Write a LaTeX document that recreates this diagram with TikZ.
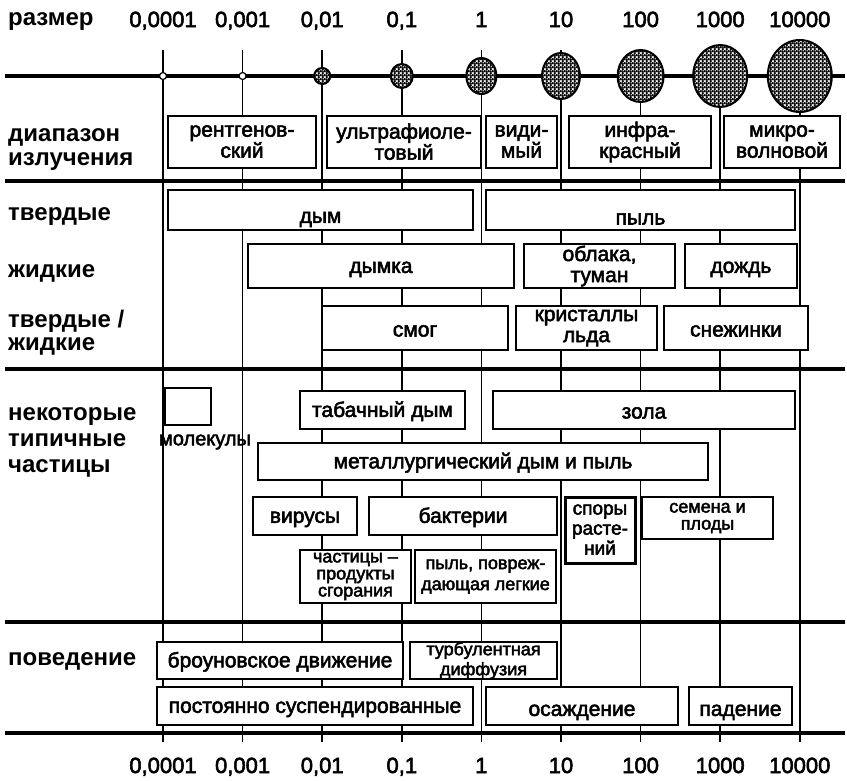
\documentclass[tikz,border=0pt]{standalone}
\usepackage{fontspec}
\setmainfont{Liberation Sans}
\newfontfamily\boxfont[FakeBold=2.5]{Liberation Sans}
\usetikzlibrary{positioning, shapes.geometric, patterns}

\newcommand\boxtop{18}

\pgfdeclarepatternformonly{speckle}{\pgfqpoint{-1pt}{-1pt}}{\pgfqpoint{5pt}{5pt}}{\pgfqpoint{4pt}{4pt}}{
  \pgfsetlinewidth{1.9pt}
  \pgfpathmoveto{\pgfqpoint{0pt}{0.4pt}}\pgfpathlineto{\pgfqpoint{1.5pt}{1.4pt}}
  \pgfpathmoveto{\pgfqpoint{2pt}{2.4pt}}\pgfpathlineto{\pgfqpoint{3.5pt}{3.4pt}}
  \pgfpathmoveto{\pgfqpoint{2.4pt}{0.2pt}}\pgfpathlineto{\pgfqpoint{3.2pt}{0.9pt}}
  \pgfusepath{stroke}
}

\begin{document}
\begin{tikzpicture}[
    x=1pt, y=-1pt,
    textdrop/.code={\def\boxtop{#1}},
    box/.style={rectangle, draw, line width=2pt, fill=white, inner sep=0pt,
                align=center, font=\boxfont\fontsize{21}{21}\selectfont,
                execute at begin node={\rule{0pt}{\boxtop pt}},
                execute at end node={\rule[-1pt]{0pt}{1pt}}},
    smallbox/.style={box, textdrop=13, font=\boxfont\fontsize{18}{17}\selectfont},
    wh/.style 2 args={minimum width=#1, minimum height=#2},
    rowlabel/.style={anchor=base west, align=left, inner sep=0pt,
                font=\bfseries\fontsize{24}{24}\selectfont},
    ticklabel/.style={anchor=base, inner sep=0pt, font=\boxfont\fontsize{22}{22}\selectfont},
    rule/.style={line width=3.5pt},
    gridline/.style={line width=1.5pt},
    ball/.style={ellipse, draw, line width=2pt, inner sep=0pt, fill=white,
                postaction={pattern=speckle}},
    ring/.style={circle, draw, line width=1.2pt, inner sep=0pt, fill=white,
                minimum size=7}
  ]
    \useasboundingbox (0,0) rectangle (847,780);

    % size scale
    \foreach \t [count=\i from 0] in {{0,0001},{0,001},{0,01},{0,1},1,10,100,1000,10000} {
      \coordinate (t\i) at (163+79.6*\i,50);
      \coordinate (b\i) at (163+79.6*\i,742);
      \draw[gridline] (t\i) -- (b\i);
      \node[ticklabel] (top\i) at (163+79.6*\i,27) {\t};
      \node[ticklabel] (bot\i) at (163+79.6*\i,773) {\t};
    }
    \foreach \y [count=\k] in {76,181,369,622,733} {
      \coordinate (hl\k) at (5,\y);
      \coordinate (hr\k) at (845,\y);
      \draw[rule] (hl\k) -- (hr\k);
    }

    \node[ring] (c0) at (163,76) {};
    \node[ring] (c1) at (242.6,76) {};
    \node[ball, wh={16}{16}] (c2) at (322.2,76) {};
    \node[ball, wh={22}{24}] (c3) at (401.8,76) {};
    \node[ball, wh={30}{36}] (c4) at (481.4,76) {};
    \node[ball, wh={38}{46}] (c5) at (561,76) {};
    \node[ball, wh={46}{52}] (c6) at (640.6,76) {};
    \node[ball, wh={54}{62}] (c7) at (720.2,76) {};
    \node[ball, wh={64}{72}] (c8) at (799.8,76) {};

    \node[rowlabel] (lsize) at (8,25)  {размер};
    \node[rowlabel] (lrad)  at (8,165) {диапазон\\излучения};
    \node[rowlabel] (lsol)  at (8,220) {твердые};
    \node[rowlabel] (lliq)  at (8,277) {жидкие};
    \node[rowlabel] (lmix)  at (8,350) {твердые /\\[-1pt]жидкие};
    \node[rowlabel] (lpart) at (8,472) {некоторые\\[2pt]типичные\\[2pt]частицы};
    \node[rowlabel] (lbeh)  at (8,665) {поведение};

    \node[box, textdrop=24, wh={148}{52}] (xray)  at (242,142)   {рентгенов-\\ский};
    \node[box, textdrop=24, wh={154}{52}] (uv)    at (404,142)   {ультрафиоле-\\товый};
    \node[box, textdrop=24, wh={71}{52}]  (vis)   at (521.5,142) {види-\\мый};
    \node[box, textdrop=24, wh={142}{52}] (ir)    at (640,142)   {инфра-\\красный};
    \node[box, textdrop=24, wh={116}{52}] (micro) at (782,142)   {микро-\\волновой};

    \node[box, textdrop=30, wh={305}{40}] (smoke) at (320.5,210) {дым};
    \node[box, textdrop=30, wh={309}{40}] (dust)  at (640.5,210) {пыль};
    \node[box, wh={266}{44}] (haze)   at (381,266)   {дымка};
    \node[box, wh={151}{44}] (clouds) at (599.5,266) {облака,\\туман};
    \node[box, wh={112}{44}] (rain)   at (741,266)   {дождь};
    \node[box, wh={186}{44}] (smog)   at (415,328)   {смог};
    \node[box, wh={141}{44}] (ice)    at (586.5,328) {кристаллы\\льда};
    \node[box, wh={144}{44}] (snow)   at (736,328)   {снежинки};

    \node[box, wh={46}{37}] (mol) at (188,406.5) {};
    \node[inner sep=0pt, font=\boxfont\fontsize{20}{20}\selectfont] (molt) at (205,442) {молекулы};
    \node[box, wh={165}{38}] (tobacco) at (382.5,410) {табачный дым};
    \node[box, wh={302}{38}] (ash)     at (644,410)   {зола};
    \node[box, wh={450}{37}] (metal)   at (483,461.5) {металлургический дым и пыль};
    \node[box, wh={104}{38}] (virus)   at (305,516)   {вирусы};
    \node[box, wh={188}{38}] (bact)    at (463,516)   {бактерии};
    \node[smallbox, line width=3pt, font=\boxfont\fontsize{19}{20}\selectfont,
          wh={70}{66}] (spores) at (600,530) {споры\\расте-\\ний};
    \node[smallbox, wh={131}{42}] (seeds)    at (707.5,518) {семена и\\плоды};
    \node[smallbox, wh={111}{53}] (combust)  at (355.5,576.5) {частицы –\\продукты\\сгорания};
    \node[smallbox, textdrop=18, wh={141}{53}] (lungdust) at (485.5,576.5) {пыль, повреж-\\[4pt]дающая легкие};

    \node[box, wh={246}{37}] (brown)  at (280,660.5)   {броуновское движение};
    \node[smallbox, wh={147}{37}] (turb) at (483.5,660.5) {турбулентная\\[3pt]диффузия};
    \node[box, wh={316}{38}] (susp)   at (315,706)     {постоянно суспендированные};
    \node[box, textdrop=24, wh={192}{38}] (settle) at (582,706)   {осаждение};
    \node[box, textdrop=24, wh={103}{38}] (fall)   at (740.5,706) {падение};
  \end{tikzpicture}
\end{document}
